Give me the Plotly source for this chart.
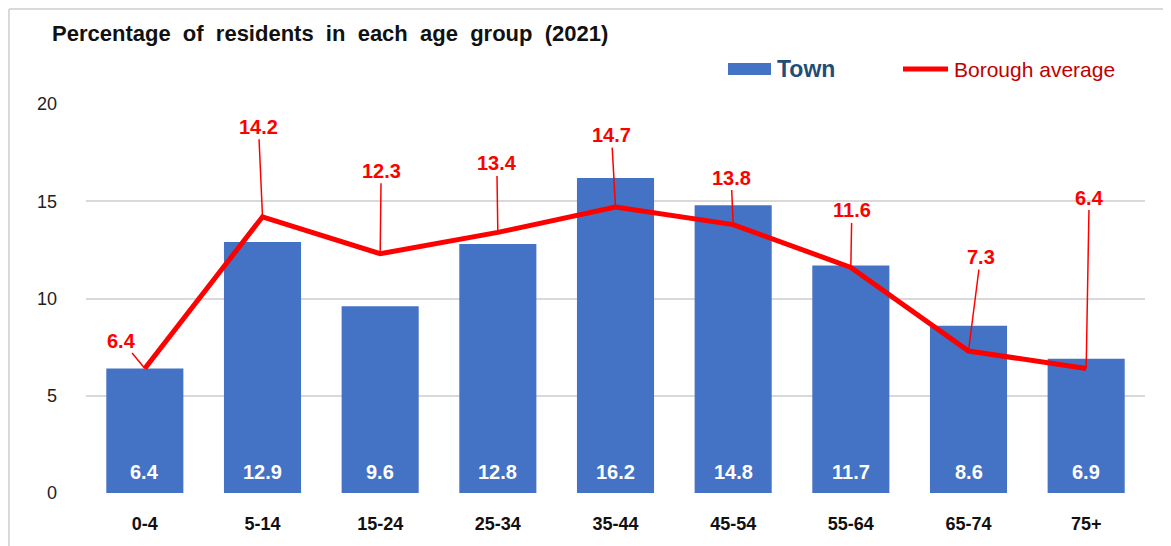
import plotly.graph_objects as go

categories = ["0-4", "5-14", "15-24", "25-34", "35-44", "45-54", "55-64", "65-74", "75+"]
town = [6.4, 12.9, 9.6, 12.8, 16.2, 14.8, 11.7, 8.6, 6.9]
borough = [6.4, 14.2, 12.3, 13.4, 14.7, 13.8, 11.6, 7.3, 6.4]
y_ticks = [0, 5, 10, 15, 20]
title_text = "Percentage of residents in each age group (2021)"

# label offsets (pixels) for borough leader-line labels
label_ax = [-23, -4, 1, -1, -4, -2, 1, 12, 3]
label_ay = [-28, -90, -83, -69, -72, -47, -57, -94, -171]

OFF = 8  # page body margin
W, H = 1171 - OFF, 546 - OFF
PL, PR, PT, PB = 86, 1145, 104, 493  # plot area in screen pixels
pw, ph = PR - PL, PB - PT

def px(x):
    return (x - PL) / pw

def py(y):
    return (PB - y) / ph

fig = go.Figure()
fig.add_trace(go.Bar(
    x=categories, y=town, name="Town",
    marker=dict(color="#4472C4", line=dict(width=0)),
    width=0.655,
    showlegend=False, hoverinfo="skip",
))
fig.add_trace(go.Scatter(
    x=categories, y=borough, name="Borough average", mode="lines",
    line=dict(color="#FF0000", width=5),
    showlegend=False, hoverinfo="skip",
))

for c, v in zip(categories, town):
    fig.add_annotation(
        x=c, y=0, text=f"<b>{v:.1f}</b>", showarrow=False, yanchor="middle",
        yshift=21, font=dict(color="white", size=20, family="Liberation Sans"),
    )

for c, v, ax, ay in zip(categories, borough, label_ax, label_ay):
    fig.add_annotation(
        x=c, y=v, text=f"<b>{v:.1f}</b>", showarrow=True, arrowhead=0,
        arrowwidth=1.5, arrowcolor="#FF0000", ax=ax, ay=ay, standoff=0,
        font=dict(color="#FF0000", size=20, family="Liberation Sans"),
    )

# title (slightly wider word spacing, as in the original)
fig.add_annotation(
    xref="paper", yref="paper", x=px(50), y=py(33), xanchor="left", yanchor="middle",
    text="<b>" + title_text.replace(" ", "&nbsp; ") + "</b>", showarrow=False,
    font=dict(size=22, color="#111111", family="Liberation Sans"),
)

# manual legend
fig.add_shape(type="rect", xref="paper", yref="paper",
              x0=px(728), x1=px(771), y0=py(75), y1=py(63),
              fillcolor="#4472C4", line=dict(width=0))
fig.add_annotation(xref="paper", yref="paper", x=px(775), y=py(69), xanchor="left",
                   yanchor="middle", text="<b>Town</b>", showarrow=False,
                   font=dict(size=23, color="#1F4E79", family="Liberation Sans"))
fig.add_shape(type="line", xref="paper", yref="paper",
              x0=px(903), x1=px(948), y0=py(69), y1=py(69),
              line=dict(color="#FF0000", width=5))
fig.add_annotation(xref="paper", yref="paper", x=px(952), y=py(69), xanchor="left",
                   yanchor="middle", text="Borough average", showarrow=False,
                   font=dict(size=21, color="#C00000", family="Liberation Sans"))

# white cover for gridline under legend area
fig.add_shape(type="rect", xref="paper", yref="paper",
              x0=px(665), x1=px(1150), y0=py(107), y1=py(100),
              fillcolor="white", line=dict(width=0), layer="above")

# outer border (top and left edges)
fig.add_shape(type="line", xref="paper", yref="paper",
              x0=px(9), x1=px(1171), y0=py(9), y1=py(9),
              line=dict(color="#D9D9D9", width=2))
fig.add_shape(type="line", xref="paper", yref="paper",
              x0=px(9), x1=px(9), y0=py(9), y1=py(546),
              line=dict(color="#D9D9D9", width=2))

fig.update_layout(
    width=W, height=H,
    margin=dict(l=PL - OFF, r=W - (PR - OFF), t=PT - OFF, b=H - (PB - OFF)),
    plot_bgcolor="white", paper_bgcolor="white",
    font=dict(family="Liberation Sans", color="#222222"),
)
fig.update_xaxes(
    tickfont=dict(size=18, color="#111111", family="Liberation Sans", weight="bold"),
    showgrid=False, showline=False, ticks="", ticklabelstandoff=18,
)
fig.update_yaxes(
    range=[0, 20], tickvals=y_ticks, ticktext=[str(t) for t in y_ticks],
    gridcolor="#D9D9D9", gridwidth=1.5, zeroline=False,
    tickfont=dict(size=18, color="#222222", family="Liberation Sans"),
    ticks="", ticklabelstandoff=28,
)

fig.write_html("out.html")
